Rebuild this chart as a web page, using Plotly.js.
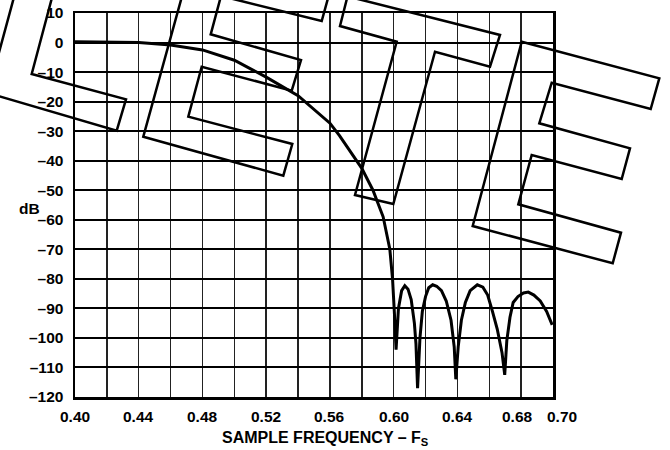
<!DOCTYPE html>
<html>
<head>
<meta charset="utf-8">
<script src="https://cdn.plot.ly/plotly-3.0.1.min.js"></script>
<style>html,body{margin:0;padding:0;background:#fff;}#chart{width:670px;height:450px;}</style>
</head>
<body>
<div id="chart"></div>
<script>
// ---- data ----
const freq = [0.40,0.42,0.44,0.46,0.48,0.50,0.52,0.54,0.55,0.56,0.566,0.5725,0.58,0.587,0.5934,0.5976,0.5993,0.6005,0.6015,
  0.603,0.605,0.607,0.609,0.611,0.613,0.614,0.615,
  0.6165,0.618,0.620,0.622,0.6245,0.627,0.630,0.633,0.636,0.638,0.639,
  0.6405,0.6425,0.645,0.648,0.6525,0.656,0.659,0.662,0.665,0.668,0.6697,
  0.671,0.673,0.675,0.678,0.6815,0.6845,0.688,0.692,0.696,0.6995];
const gainDb = [0.3,0.2,0,-0.8,-2.5,-6,-11.7,-18,-22.5,-27.3,-31.5,-36.5,-42.6,-50,-59,-70,-80,-92,-104,
  -90,-84,-82.3,-83.5,-87,-95,-102,-117,
  -100,-91,-86,-83,-82,-82.5,-84,-87.5,-94,-103,-114,
  -103,-94,-88,-84,-82,-82.8,-85.5,-91,-97,-105,-112.5,
  -101,-93,-88,-86,-84.8,-84.5,-85.5,-87.5,-91,-95.6];

const xGridVals = [0.40,0.42,0.44,0.46,0.48,0.50,0.52,0.54,0.56,0.58,0.60,0.62,0.64,0.66,0.68,0.70];
const xLabelVals = [0.40,0.44,0.48,0.52,0.56,0.60,0.64,0.68,0.70];
const xLabelText = ['0.40','0.44','0.48','0.52','0.56','0.60','0.64','0.68','0.70'];
const yTickVals = [10,0,-10,-20,-30,-40,-50,-60,-70,-80,-90,-100,-110,-120];
const yTickText = ['10','0','\u201310','\u201320','\u201330','\u201340','\u201350','\u201360','\u201370','\u201380','\u201390','\u2013100','\u2013110','\u2013120'];

// ---- decorative outline overlays seen in the reference (figure pixel outlines) ----
const overlayL = [[31.7,74],[126,99.3],[116.7,130.7],[-12,93],[20,-25],[58,-25]];
const overlayE1 = [[143.3,136.7],[283.3,175.7],[292.3,144],[188.3,116.7],[201.7,66.7],[291.7,90.7],[301,60],[210.7,34.3],[221,-4],[321.7,21],[330.5,-10.8],[192,-40]];
const overlayT = [[347.5,-3.6],[500,35],[490,66.7],[435,51.7],[393.3,204],[355,195],[396.7,41.7],[340,26]];
const overlayE2 = [[521.7,41.7],[659.3,78.3],[650.7,109],[551.7,82.7],[539.3,123.3],[630,148.3],[621.7,179],[531.7,155],[518.3,204.3],[621,232.7],[612.7,263.3],[472.7,226]];

const W = 670, H = 450;
const M = {l:75, r:117, t:13, b:53};
const pw = W - M.l - M.r, ph = H - M.t - M.b;
function toPath(pts){
  return pts.map((p,i)=>(i?'L':'M')+((p[0]-M.l)/pw).toFixed(5)+','+((H-M.b-p[1])/ph).toFixed(5)).join(' ')+' Z';
}
const shapes = [overlayL, overlayE1, overlayT, overlayE2].map(pts=>({
  type:'path', xref:'paper', yref:'paper', path: toPath(pts),
  line:{color:'#000', width:2.5}, fillcolor:'rgba(0,0,0,0)', layer:'above'
}));

const FONT = 'Liberation Sans, Arial, Helvetica, sans-serif';
const tickFont = {family:FONT, size:15.5, color:'#000', weight:'bold'};

// small label nudges seen in the reference (last two labels are offset from their gridlines)
const xLabelShift = [0,0,0,0,0,0,0,-4,9];
const xLabelAnn = xLabelVals.map((v,i)=>({
  text:xLabelText[i], xref:'x', yref:'paper', x:v, y:0, yshift:-19, xshift:xLabelShift[i],
  showarrow:false, xanchor:'center', yanchor:'middle', font:tickFont
}));

const trace = {
  x: freq, y: gainDb, type:'scatter', mode:'lines',
  line:{color:'#000', width:3}, hoverinfo:'skip'
};

const layout = {
  width: W, height: H,
  margin: M,
  paper_bgcolor:'#fff', plot_bgcolor:'#fff',
  showlegend:false,
  font:{family:FONT, size:15, color:'#000', weight:'bold'},
  xaxis:{
    range:[0.40,0.70], tickmode:'array', tickvals:xGridVals, showticklabels:false,
    showgrid:true, gridcolor:'#222', gridwidth:1.5,
    showline:true, mirror:true, linecolor:'#000', linewidth:2.5,
    ticks:'', zeroline:false
  },
  yaxis:{
    range:[-120,10], tickmode:'array', tickvals:yTickVals, ticktext:yTickText,
    showgrid:true, gridcolor:'#000', gridwidth:2,
    showline:true, mirror:true, linecolor:'#000', linewidth:2.5,
    ticks:'', ticklabelstandoff:6, zeroline:false,
    tickfont:tickFont
  },
  annotations:[
    {text:'dB', xref:'paper', yref:'paper', x:(29-M.l)/pw, y:(H-M.b-208)/ph, showarrow:false,
     xanchor:'center', yanchor:'middle', font:tickFont},
    {text:'SAMPLE FREQUENCY \u2013 F<sub>S</sub>', xref:'paper', yref:'paper', x:(325-M.l)/pw, y:(H-M.b-438)/ph,
     showarrow:false, xanchor:'center', yanchor:'middle', font:{family:FONT, size:16, color:'#000', weight:'bold'}}
  ].concat(xLabelAnn),
  shapes: shapes
};

Plotly.newPlot('chart', [trace], layout, {staticPlot:true, displayModeBar:false});
</script>
</body>
</html>
